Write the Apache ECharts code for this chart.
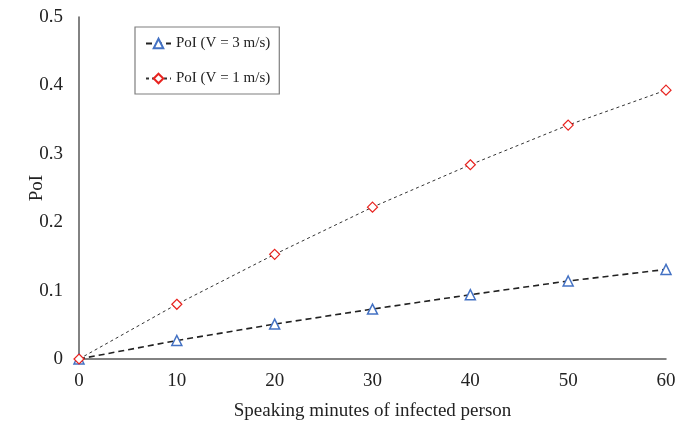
<!DOCTYPE html>
<html><head><meta charset="utf-8">
<script src="https://cdn.jsdelivr.net/npm/echarts@6/dist/echarts.min.js"></script>
<style>html,body{margin:0;padding:0;background:#fff}#c{width:691px;height:429px}</style>
</head><body><div id="c"></div>
<script>
const minutes = [0, 10, 20, 30, 40, 50, 60];
const poiV3 = [0, 0.027, 0.051, 0.073, 0.094, 0.114, 0.131];
const poiV1 = [0, 0.080, 0.153, 0.222, 0.284, 0.342, 0.393];
const seriesNames = ['PoI (V = 3 m/s)', 'PoI (V = 1 m/s)'];

const font = 'Liberation Serif';
const chart = echarts.init(document.getElementById('c'));
chart.setOption({
  animation: false,
  backgroundColor: '#fff',
  textStyle: {fontFamily: font},
  grid: {left: 79, right: 25, top: 17, bottom: 70},
  legend: {
    orient: 'vertical', left: 135, top: 27,
    padding: [9, 9, 8, 10], itemGap: 20,
    borderColor: '#7f7f7f', borderWidth: 1.2,
    itemWidth: 25, itemHeight: 12,
    textStyle: {fontFamily: font, fontSize: 15, color: '#222'},
    data: seriesNames
  },
  xAxis: {
    type: 'value', min: 0, max: 60, interval: 10,
    name: 'Speaking minutes of infected person',
    nameLocation: 'middle', nameGap: 43, nameMoveOverlap: false,
    nameTextStyle: {fontFamily: font, fontSize: 19, color: '#222'},
    axisLine: {show: true, lineStyle: {color: '#595959', width: 1.5}},
    axisTick: {show: false},
    splitLine: {show: false},
    axisLabel: {fontFamily: font, fontSize: 19, color: '#222', margin: 13}
  },
  yAxis: {
    type: 'value', min: 0, max: 0.5, interval: 0.1,
    name: 'PoI', nameLocation: 'middle', nameGap: 32, nameMoveOverlap: false,
    nameTextStyle: {fontFamily: font, fontSize: 19, color: '#222'},
    axisLine: {show: true, lineStyle: {color: '#595959', width: 1.5}},
    axisTick: {show: false},
    splitLine: {show: false},
    axisLabel: {fontFamily: font, fontSize: 19, color: '#222', margin: 16,
      formatter: v => (v === 0 ? '0' : v.toFixed(1))}
  },
  series: [
    {
      name: seriesNames[0], type: 'line',
      data: minutes.map((m, i) => [m, poiV3[i]]),
      symbol: 'triangle', symbolSize: 10,
      lineStyle: {color: '#222', width: 1.6, type: [6, 4]},
      itemStyle: {color: '#fff', borderColor: '#4472c4', borderWidth: 1.5},
      z: 3
    },
    {
      name: seriesNames[1], type: 'line',
      data: minutes.map((m, i) => [m, poiV1[i]]),
      symbol: 'diamond', symbolSize: 10,
      lineStyle: {color: '#333', width: 1, type: [3, 3]},
      itemStyle: {color: '#fff', borderColor: '#e8231f', borderWidth: 1.2},
      z: 4
    }
  ]
});
</script></body></html>
